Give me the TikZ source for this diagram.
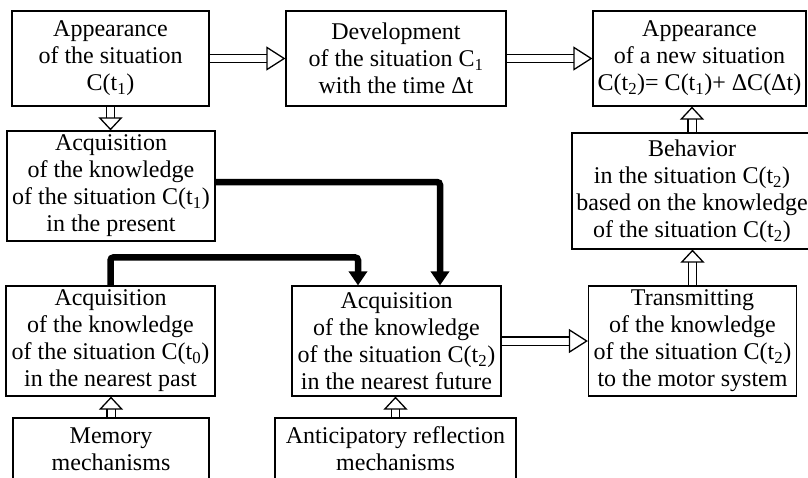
\documentclass[tikz,border=0pt]{standalone}
\usepackage{fontspec}
\setmainfont{Liberation Serif}
\usepackage{tikz}
\usetikzlibrary{arrows.meta,
	backgrounds}

\tikzset{
	box/.style={draw, line width=1.2pt, fill=white, align=center, inner sep=0pt,
		font=\fontsize{24}{27}\selectfont},
	hollow/.style={double, double distance=7pt, line width=1.3pt,
		-{Triangle[open, length=19pt, width=24pt]}},
	shorthead/.style={-{Triangle[open, length=13pt, width=24pt]}},
	heavy/.style={line width=6.5pt, rounded corners=3pt,
		-{Triangle[length=14pt, width=18pt]}}
}

\begin{document}
\begin{tikzpicture}[x=1pt, y=-1pt]
        \useasboundingbox (0,0) rectangle (808,477);
        \clip (0,0) rectangle (808,477);

        %top row
        \node[box, minimum width=197pt, minimum height=95pt] (appear) at (110.5,58.5)
            {Appearance\\of the situation\\C(t\textsubscript{1})};
        \node[box, minimum width=220pt, minimum height=95pt] (devel) at (396,58.5)
            {Development\\of the situation C\textsubscript{1}\\with the time Δt};
        \node[box, minimum width=213pt, minimum height=95pt] (newsit) at (699.5,58.5)
            {Appearance\\of a new situation\\C(t\textsubscript{2})= C(t\textsubscript{1})+ ΔC(Δt)};

        %second row
        \node[box, minimum width=208pt, minimum height=110pt] (present) at (111,186)
            {Acquisition\\of the knowledge\\of the situation C(t\textsubscript{1})\\in the present};
        \node[box, minimum width=240pt, minimum height=116pt] (behav) at (692,191)
            {Behavior\\in the situation C(t\textsubscript{2})\\based on the knowledge\\of the situation C(t\textsubscript{2})};

        %third row
        \node[box, minimum width=209pt, minimum height=110pt] (past) at (110.5,341)
            {Acquisition\\of the knowledge\\of the situation C(t\textsubscript{0})\\in the nearest past};
        \node[box, minimum width=209pt, minimum height=110pt] (future) at (396.5,341)
            {Acquisition\\of the knowledge\\of the situation C(t\textsubscript{2})\\in the nearest future};
        \node[box, minimum width=208pt, minimum height=110pt] (transm) at (692.5,341)
            {Transmitting\\of the knowledge\\of the situation C(t\textsubscript{2})\\to the motor system};

        %bottom row (cut by the page)
        \node[box, minimum width=196pt, minimum height=62pt] (memory) at (111,449)
            {Memory\\mechanisms};
        \node[box, minimum width=241pt, minimum height=62pt] (antic) at (395.5,449)
            {Anticipatory reflection\\mechanisms};

        \begin{scope}[on background layer]
        \draw[hollow] (appear.east) -- (devel.west);
        \draw[hollow] (devel.east) -- (newsit.west);
        \draw[hollow] (future.east) -- (transm.west);
        \draw[hollow, shorthead] (appear.south) -- (appear.south |- present.north);
        \draw[hollow, shorthead] (behav.north) -- (behav.north |- newsit.south);
        \draw[hollow, shorthead] (transm.north) -- (transm.north |- behav.south);
        \draw[hollow, shorthead] (memory.north) -- (memory.north |- past.south);
        \draw[hollow, shorthead] (antic.north) -- (antic.north |- future.south);

        \draw[heavy] ([yshift=4pt]present.east) -| ([xshift=43.5pt]future.north);
        \coordinate (bend) at ([yshift=28pt]past.north);
        \draw[heavy] (past.north) -- (bend) -| ([xshift=-38.5pt]future.north);
        \end{scope}
    \end{tikzpicture}
\end{document}
